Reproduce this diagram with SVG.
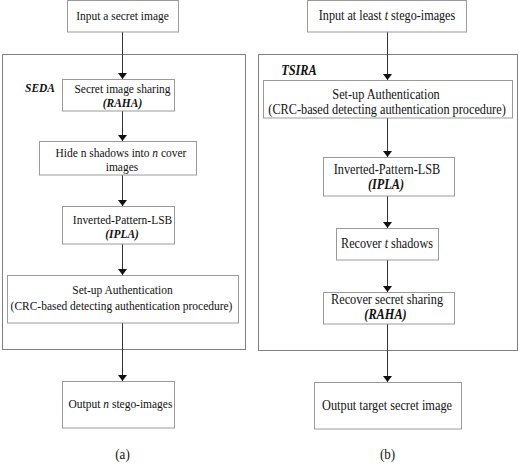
<svg xmlns="http://www.w3.org/2000/svg" width="519" height="466" viewBox="0 0 519 466">
<defs>
<marker id="arr" viewBox="0 0 10 10" markerWidth="6" markerHeight="9" refX="10" refY="5" orient="auto" markerUnits="userSpaceOnUse" preserveAspectRatio="none">
<path d="M0,0 L10,5 L0,10 Z" fill="#111"/>
</marker>
<style>
.bx{fill:#fff;stroke:#9a9a9a;stroke-width:1}
.ob{fill:none;stroke:#808080;stroke-width:1}
.cn{stroke:#333;stroke-width:1;fill:none;marker-end:url(#arr)}
text{font-family:'Liberation Serif',serif;fill:#111;text-anchor:middle}
.l{font-size:13.5px}
.r{font-size:14.5px}
.rs{font-size:13.8px}
.bi{font-weight:bold;font-style:italic}
.it{font-style:italic}
</style>
</defs>
<rect width="519" height="466" fill="#fff"/>
<g id="containers">
<rect class="ob" x="2.5" y="54.5" width="243" height="295"/>
<rect class="ob" x="258.5" y="54.5" width="259" height="296"/>
<text class="l bi" transform="translate(40,92) scale(0.85,1)">SEDA</text>
<text class="r bi" transform="translate(299,75) scale(0.85,1)">TSIRA</text>
</g>
<g id="connectors">
<line class="cn" x1="122.5" y1="32" x2="122.5" y2="79"/>
<line class="cn" x1="122.5" y1="111" x2="122.5" y2="141"/>
<line class="cn" x1="122.5" y1="175" x2="122.5" y2="206"/>
<line class="cn" x1="122.5" y1="244" x2="122.5" y2="275"/>
<line class="cn" x1="122.5" y1="323" x2="122.5" y2="381"/>
<line class="cn" x1="387.5" y1="32" x2="387.5" y2="80"/>
<line class="cn" x1="387.5" y1="118" x2="387.5" y2="157"/>
<line class="cn" x1="387.5" y1="196" x2="387.5" y2="228"/>
<line class="cn" x1="387.5" y1="260" x2="387.5" y2="292"/>
<line class="cn" x1="387.5" y1="324" x2="387.5" y2="382"/>
</g>
<g id="a-input">
<rect class="bx" x="67.5" y="0.5" width="111" height="31.5"/>
<text class="l" transform="translate(122.5,20) scale(0.85,1)">Input a secret image</text>
</g>
<g id="a-raha">
<rect class="bx" x="62.5" y="79.5" width="112" height="31.5"/>
<text class="l" transform="translate(122.5,93) scale(0.85,1)">Secret image sharing</text>
<text class="l bi" transform="translate(122.5,107) scale(0.85,1)">(RAHA)</text>
</g>
<g id="a-hide">
<rect class="bx" x="39.5" y="141.5" width="157" height="33.5"/>
<text class="l" transform="translate(121,157) scale(0.85,1)">Hide n shadows into <tspan class="it">n</tspan> cover</text>
<text class="l" transform="translate(122,171) scale(0.85,1)">images</text>
</g>
<g id="a-ipla">
<rect class="bx" x="62.5" y="206.5" width="112" height="37.5"/>
<text class="l" transform="translate(122.5,224) scale(0.85,1)">Inverted-Pattern-LSB</text>
<text class="l bi" transform="translate(122,238) scale(0.85,1)">(IPLA)</text>
</g>
<g id="a-auth">
<rect class="bx" x="7.5" y="275.5" width="231" height="47.5"/>
<text class="l" transform="translate(122.5,294) scale(0.85,1)">Set-up Authentication</text>
<text class="l" transform="translate(121.5,310) scale(0.85,1)">(CRC-based detecting authentication procedure)</text>
</g>
<g id="a-output">
<rect class="bx" x="62.5" y="381.5" width="112" height="46.5"/>
<text class="l" transform="translate(120.5,408) scale(0.85,1)">Output <tspan class="it">n</tspan> stego-images</text>
</g>
<text class="r" transform="translate(122.5,459) scale(0.9,1)">(a)</text>
<g id="b-input">
<rect class="bx" x="307.5" y="0.5" width="159" height="31.5"/>
<text class="r" transform="translate(387,20) scale(0.84,1)">Input at least <tspan class="it">t</tspan> stego-images</text>
</g>
<g id="b-auth">
<rect class="bx" x="263.5" y="80.5" width="249" height="37.5"/>
<text class="rs" transform="translate(386,99) scale(0.89,1)">Set-up Authentication</text>
<text class="rs" transform="translate(387,113.5) scale(0.89,1)">(CRC-based detecting authentication procedure)</text>
</g>
<g id="b-ipla">
<rect class="bx" x="323.5" y="157.5" width="131" height="38.5"/>
<text class="r" transform="translate(387,174) scale(0.85,1)">Inverted-Pattern-LSB</text>
<text class="r bi" transform="translate(386,189) scale(0.85,1)">(IPLA)</text>
</g>
<g id="b-shadows">
<rect class="bx" x="336.5" y="228.5" width="102" height="31.5"/>
<text class="r" transform="translate(387,248) scale(0.84,1)">Recover <tspan class="it">t</tspan> shadows</text>
</g>
<g id="b-raha">
<rect class="bx" x="323.5" y="292.5" width="131" height="31.5"/>
<text class="r" transform="translate(387,304) scale(0.85,1)">Recover secret sharing</text>
<text class="r bi" transform="translate(385.5,319) scale(0.85,1)">(RAHA)</text>
</g>
<g id="b-output">
<rect class="bx" x="314.5" y="382.5" width="147" height="46.5"/>
<text class="r" transform="translate(387,410) scale(0.85,1)">Output target secret image</text>
</g>
<text class="r" transform="translate(387.5,459) scale(0.9,1)">(b)</text>
</svg>
